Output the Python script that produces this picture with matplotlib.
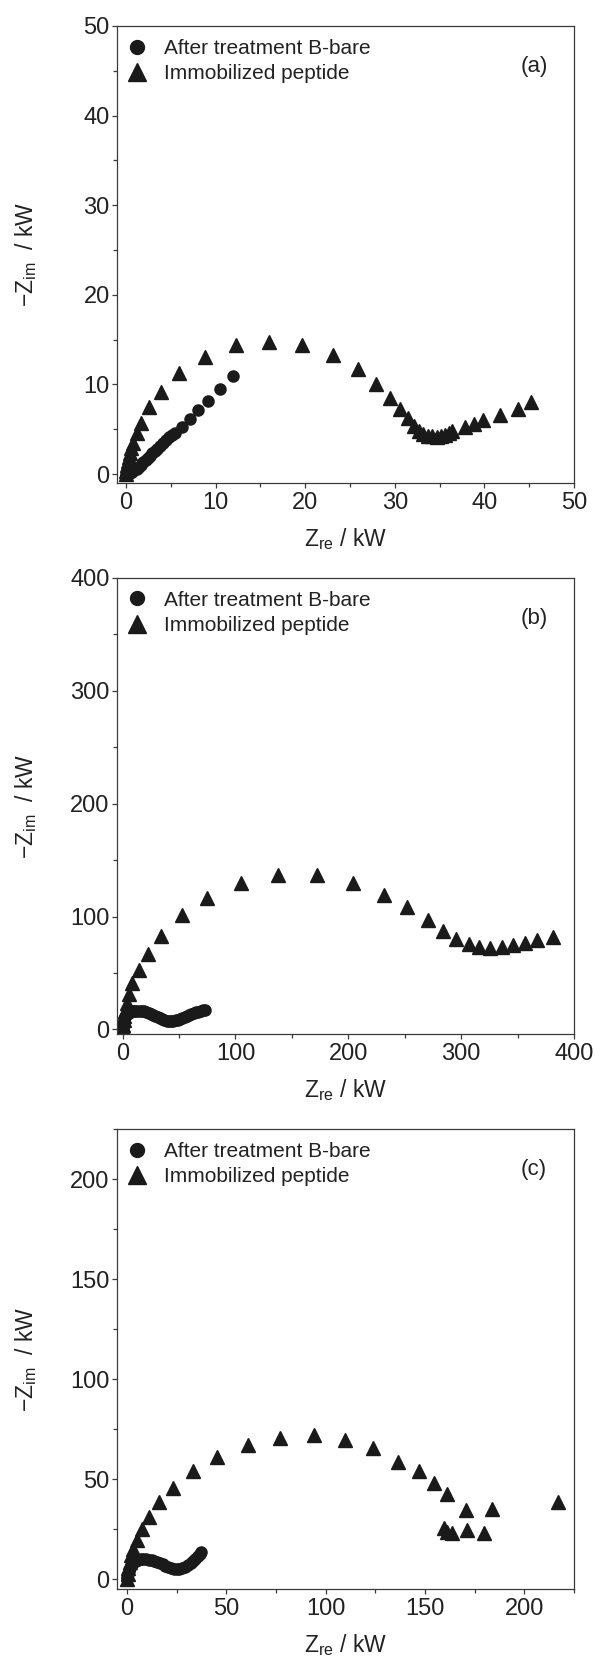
import numpy as np
import matplotlib
matplotlib.use('Agg')
import matplotlib.pyplot as plt
from matplotlib.ticker import MultipleLocator

plt.rcParams['font.family'] = ['Liberation Sans', 'DejaVu Sans']

# ---- panel (a) ----
a_bare_x = [0, 0.1, 0.25, 0.45, 0.7, 0.95, 1.2, 1.45, 1.7, 1.95, 2.2, 2.45, 2.7, 2.95, 3.2,
            3.5, 3.8, 4.1, 4.45, 4.8, 5.15, 5.5, 6.25, 7.1, 8.05, 9.1, 10.5, 12.0]
a_bare_y = [0, 0.05, 0.1, 0.15, 0.25, 0.4, 0.6, 0.8, 1.05, 1.3, 1.55, 1.8, 2.05, 2.3, 2.55,
            2.85, 3.15, 3.45, 3.8, 4.1, 4.4, 4.6, 5.3, 6.1, 7.1, 8.2, 9.5, 10.9]
a_pep_x = [0, 0.05, 0.1, 0.15, 0.2, 0.3, 0.4, 0.55, 0.75, 1.2, 1.7, 2.6, 3.9, 5.96, 8.8, 12.25,
           15.95, 19.7, 23.1, 25.9, 27.9, 29.5, 30.6, 31.5, 32.1, 32.7, 33.2, 33.7, 34.1, 34.7,
           35.2, 35.6, 36.0, 36.4, 37.8, 38.8, 39.85, 41.7, 43.8, 45.2]
a_pep_y = [0, 0.3, 0.6, 1.0, 1.4, 1.9, 2.4, 2.9, 3.5, 4.6, 5.7, 7.5, 9.2, 11.3, 13.1, 14.4,
           14.76, 14.4, 13.3, 11.7, 10.0, 8.5, 7.3, 6.2, 5.4, 4.8, 4.45, 4.3, 4.2, 4.15,
           4.25, 4.4, 4.6, 4.8, 5.3, 5.6, 6.0, 6.6, 7.3, 8.0]

# ---- panel (b) ----
b_bare_x = [0, 0.2, 0.5, 1, 1.5, 2.2, 3, 4, 5.2, 6.5, 8, 9.5, 11, 13, 15, 17, 19, 21, 23, 25,
            27, 29, 31, 33, 35, 37, 39, 41, 43, 45, 47, 49, 51, 53, 55, 57, 59, 61, 63, 65,
            67, 69, 71, 73]
b_bare_y = [0, 1, 3, 6, 8.5, 11, 12.8, 14, 15, 15.7, 16.2, 16.5, 16.7, 16.8, 16.8, 16.6, 16.2,
            15.6, 14.8, 13.9, 12.9, 11.9, 10.9, 9.9, 9.0, 8.3, 7.8, 7.5, 7.4, 7.6, 8.1, 8.8,
            9.6, 10.5, 11.4, 12.3, 13.1, 13.9, 14.6, 15.3, 15.9, 16.5, 17.1, 17.6]
b_pep_x = [0, 0.3, 0.6, 0.8, 1.2, 2.0, 3.6, 5.6, 8.6, 14.5, 22.8, 34.1, 52.5, 74.8, 105.3, 138,
           172, 204.5, 231.5, 252.3, 270.8, 284.3, 295.4, 306.9, 315.7, 325.8, 335.9, 346,
           356.2, 367.6, 381.1]
b_pep_y = [0, 1, 4, 8.8, 12, 16.2, 23.6, 31.6, 41.3, 52.5, 67, 83.2, 101.2, 116.5, 129.8, 136.5,
           136.5, 129.8, 118.8, 108.5, 96.9, 87.4, 80.2, 75.5, 73.3, 72.3, 73.3, 74.8,
           77.0, 79.2, 81.8]

# ---- panel (c) ----
c_bare_x = [0, 0.2, 0.5, 0.9, 1.4, 2, 2.8, 3.7, 4.7, 5.8, 7, 8.3, 9.6, 11, 12.4, 13.8, 15.2,
            16.6, 18, 19.4, 20.8, 22.2, 23.6, 25, 26.4, 27.8, 29.2, 30.6, 32, 33.3, 34.5,
            35.6, 36.6, 37.5]
c_bare_y = [0, 1, 2.5, 4, 5.5, 6.8, 7.9, 8.7, 9.2, 9.6, 9.8, 9.9, 9.9, 9.7, 9.4, 9.0, 8.5,
            7.9, 7.3, 6.6, 6.0, 5.4, 5.0, 4.8, 4.9, 5.3, 6.0, 6.9, 7.9, 9.0, 10.2,
            11.3, 12.4, 13.4]
c_pep_x = [0, 0.3, 0.7, 1.3, 2.0, 2.9, 5.0, 7.4, 11.3, 16.2, 23.2, 33.4, 45.1, 60.8, 77.1,
           93.9, 109.6, 124.0, 136.5, 147.2, 154.3, 161.3, 170.7, 183.6, 216.8,
           159.6, 160.9, 163.4, 171.4, 179.5]
c_pep_y = [0, 2.5, 5.5, 8.5, 12, 15, 19.5, 25, 31.1, 38.4, 45.5, 54, 61.2, 67.2, 70.7,
           71.9, 69.5, 65.6, 58.3, 54.2, 48.0, 42.6, 34.6, 34.8, 38.6,
           25.7, 23.6, 23.0, 24.6, 22.85]

lbl_bare = 'After treatment B-bare'
lbl_pep = 'Immobilized peptide'

panels = [
    dict(tag='(a)', bx=a_bare_x, by=a_bare_y, px=a_pep_x, py=a_pep_y,
         xlim=(-1, 50), ylim=(-1, 50), xmaj=10, xmin=5, ymaj=10, ymin=5,
         rect=[117, 26, 574, 483]),
    dict(tag='(b)', bx=b_bare_x, by=b_bare_y, px=b_pep_x, py=b_pep_y,
         xlim=(-5, 400), ylim=(-4, 400), xmaj=100, xmin=50, ymaj=100, ymin=50,
         rect=[117, 578, 574, 1034]),
    dict(tag='(c)', bx=c_bare_x, by=c_bare_y, px=c_pep_x, py=c_pep_y,
         xlim=(-5, 225), ylim=(-5, 225), xmaj=50, xmin=25, ymaj=50, ymin=25,
         rect=[117, 1129, 574, 1589]),
]

W, H = 595, 1660
fig = plt.figure(figsize=(W / 100, H / 100), dpi=100)
ink = '#1a1a1a'
spine_c = '#3a3a3a'
txt_c = '#222222'

for p in panels:
    l, t, r, b = p['rect']
    ax = fig.add_axes([l / W, 1 - b / H, (r - l) / W, (b - t) / H])
    ax.plot(p['bx'], p['by'], 'o', ls='none', color=ink, ms=8, mec=ink, label=lbl_bare)
    ax.plot(p['px'], p['py'], '^', ls='none', color=ink, ms=10.3, mec=ink, label=lbl_pep)
    ax.set_xlim(*p['xlim'])
    ax.set_ylim(*p['ylim'])
    ax.xaxis.set_major_locator(MultipleLocator(p['xmaj']))
    ax.xaxis.set_minor_locator(MultipleLocator(p['xmin']))
    ax.yaxis.set_major_locator(MultipleLocator(p['ymaj']))
    ax.yaxis.set_minor_locator(MultipleLocator(p['ymin']))
    for s in ax.spines.values():
        s.set_color(spine_c)
        s.set_linewidth(0.9)
    ax.tick_params(which='both', direction='out', top=False, right=False,
                   color=spine_c, width=0.9, labelcolor=txt_c, labelsize=17)
    ax.tick_params(which='major', length=3.8)
    ax.tick_params(which='minor', length=3.2)
    ax.tick_params(axis='x', which='major', pad=3)
    ax.tick_params(axis='y', which='major', pad=1.5)
    ax.set_xlabel('Z$_{\\mathregular{re}}$ / kW', fontsize=16.5, color=txt_c, labelpad=8.5)
    ax.set_ylabel('\u2212Z$_{\\mathregular{im}}$  / kW', fontsize=16.5, color=txt_c)
    ax.yaxis.set_label_coords(-0.171, 0.5)
    ax.text(0.9125, 0.912, p['tag'], transform=ax.transAxes, ha='center', va='center',
            fontsize=16, color=txt_c)
    ax.legend(loc='upper left', bbox_to_anchor=(0.022, 0.972), frameon=False, numpoints=1,
              fontsize=15, handlelength=1.0, handletextpad=0.77, borderaxespad=0,
              borderpad=0, labelspacing=0.3, markerscale=1.25, labelcolor=txt_c)

fig.savefig('out.png', dpi=100)
